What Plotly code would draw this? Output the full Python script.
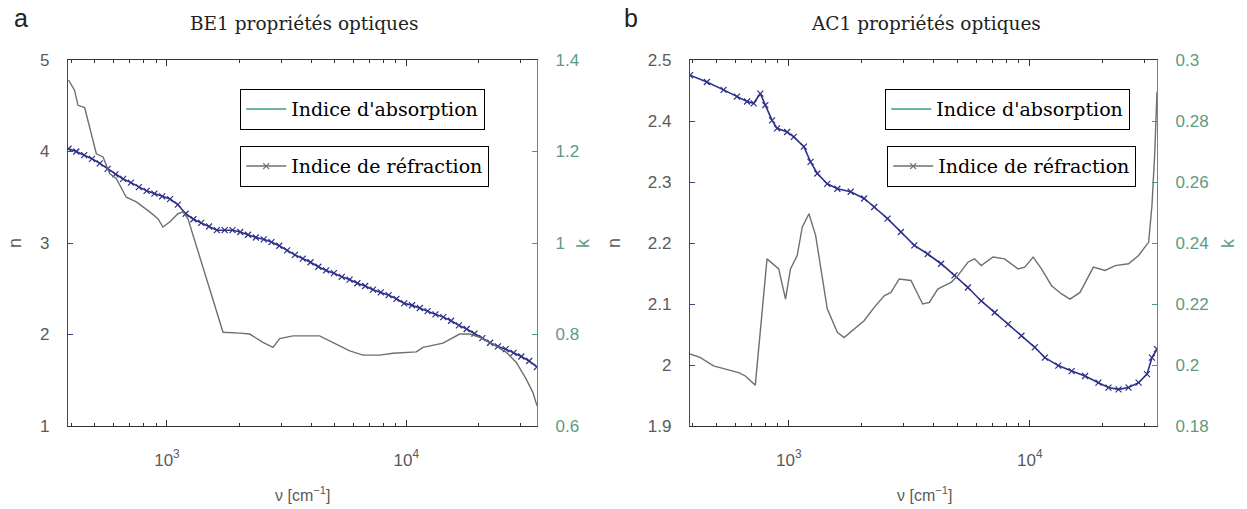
import math
import plotly.graph_objects as go

W, H = 1247, 509

# ---------------- Panel a : BE1 ----------------
a_n_x = [388, 418, 451, 486, 524, 565, 609, 656, 707, 763, 822, 886, 955, 1030, 1110, 1197,
         1290, 1390, 1499, 1616, 1742, 1878, 2024, 2182, 2352, 2536, 2733, 2947, 3176, 3424,
         3691, 3979, 4290, 4624, 4985, 5374, 5793, 6245, 6732, 7257, 7823, 8433, 9091, 9800,
         10565, 11389, 12277, 13235, 14267, 15380, 16580, 17873, 19267, 20770, 22390, 24136,
         26019, 28048, 30236, 32594, 35136]
a_n = [4.03, 4.00, 3.96, 3.92, 3.87, 3.81, 3.75, 3.70, 3.66, 3.61, 3.57, 3.54, 3.51, 3.48, 3.42,
       3.32, 3.26, 3.22, 3.18, 3.14, 3.14, 3.14, 3.12, 3.09, 3.06, 3.04, 3.01, 2.97, 2.92, 2.87,
       2.83, 2.79, 2.74, 2.70, 2.67, 2.63, 2.60, 2.56, 2.53, 2.49, 2.46, 2.43, 2.39, 2.34, 2.32,
       2.29, 2.255, 2.22, 2.19, 2.15, 2.10, 2.06, 2.01, 1.96, 1.91, 1.87, 1.84, 1.80, 1.76, 1.71,
       1.645]
a_k_x = [388, 411, 425, 453, 507, 541, 576, 614, 676, 745, 847, 917, 962, 1026, 1112, 1167, 1224,
         1715, 2013, 2215, 2518, 2773, 2958, 3361, 4343, 4939, 5800, 6590, 7740, 8795, 11010,
         11740, 14230, 16710, 18400, 20240, 23010, 26170, 28820, 31720, 33810, 35150]
a_k = [1.356, 1.334, 1.301, 1.296, 1.195, 1.188, 1.152, 1.141, 1.100, 1.090, 1.068, 1.053, 1.035,
       1.046, 1.064, 1.068, 1.053, 0.805, 0.803, 0.801, 0.783, 0.772, 0.791, 0.797, 0.797, 0.783,
       0.764, 0.755, 0.755, 0.759, 0.762, 0.772, 0.781, 0.801, 0.801, 0.794, 0.779, 0.761, 0.739,
       0.702, 0.673, 0.644]

# ---------------- Panel b : AC1 ----------------
b_n_x = [389, 457, 536, 609, 671, 715, 762, 799, 852, 894, 984, 1049, 1155, 1231, 1313, 1444,
         1590, 1806, 2053, 2261, 2568, 2919, 3318, 3771, 4285, 4870, 5535, 6290, 7150, 8122,
         9233, 10490, 11550, 13130, 14920, 16960, 19270, 21210, 23350, 25690, 28280, 30640,
         32130, 33720]
b_n = [2.475, 2.464, 2.451, 2.440, 2.432, 2.429, 2.445, 2.426, 2.401, 2.388, 2.382, 2.374, 2.358,
       2.333, 2.314, 2.297, 2.289, 2.284, 2.273, 2.259, 2.240, 2.218, 2.196, 2.182, 2.166, 2.147,
       2.127, 2.105, 2.086, 2.067, 2.048, 2.029, 2.012, 1.999, 1.990, 1.982, 1.971, 1.963, 1.960,
       1.963, 1.971, 1.985, 2.012, 2.026]
b_k_x = [389, 428, 487, 554, 619, 660, 726, 812, 908, 969, 1016, 1083, 1137, 1212, 1292, 1444,
         1590, 1695, 1866, 2053, 2261, 2488, 2653, 2873, 3213, 3593, 3831, 4150, 4424, 4717, 5029,
         5535, 5901, 6290, 7036, 7866, 8942, 9533, 10325, 11185, 12310, 13550, 14680, 16160,
         18360, 20540, 22610, 25690, 28280, 31130, 32130, 32970, 33720]
b_k = [0.2036, 0.2025, 0.1997, 0.1986, 0.1975, 0.1964, 0.1934, 0.2348, 0.2315, 0.2216, 0.2315,
       0.2359, 0.2452, 0.2496, 0.2425, 0.2184, 0.2107, 0.2090, 0.2118, 0.2145, 0.2189, 0.2227,
       0.2238, 0.2282, 0.2277, 0.2200, 0.2205, 0.2249, 0.2260, 0.2271, 0.2293, 0.2337, 0.2348,
       0.2326, 0.2354, 0.2348, 0.2315, 0.2321, 0.2354, 0.2315, 0.2260, 0.2233, 0.2216, 0.2238,
       0.2321, 0.2310, 0.2326, 0.2332, 0.2359, 0.2403, 0.2523, 0.2688, 0.2896]

titles = ["BE1 propriétés optiques", "AC1 propriétés optiques"]
panel_labels = ["a", "b"]
legend_labels = ["Indice d'absorption", "Indice de réfraction"]
a_left_ticks = [1, 2, 3, 4, 5]
a_right_ticks = [0.6, 0.8, 1.0, 1.2, 1.4]
a_right_text = ["0.6", "0.8", "1", "1.2", "1.4"]
b_left_ticks = [1.9, 2.0, 2.1, 2.2, 2.3, 2.4, 2.5]
b_left_text = ["1.9", "2", "2.1", "2.2", "2.3", "2.4", "2.5"]
b_right_ticks = [0.18, 0.2, 0.22, 0.24, 0.26, 0.28, 0.3]
b_right_text = ["0.18", "0.2", "0.22", "0.24", "0.26", "0.28", "0.3"]
x_major = [1000, 10000]
x_major_text = ["10<sup>3</sup>", "10<sup>4</sup>"]
x_minor = [400, 500, 600, 700, 800, 900, 2000, 3000, 4000, 5000, 6000, 7000, 8000, 9000,
           20000, 30000]

NAVY = "#2c3088"
GRAY = "#6d706e"
TEAL = "#3f9c7e"
LEFTAX = "#3f4472"
TICKGRAY = "#5a5a5a"
RIGHTTXT = "#5c9a82"

fig = go.Figure()

def px_x(p):
    return p / W

def px_y(p):
    return 1 - p / H

panels = [
    dict(xa="x", ya="y", ya2="y2", nx=a_n_x, ny=a_n, kx=a_k_x, ky=a_k),
    dict(xa="x2", ya="y3", ya2="y4", nx=b_n_x, ny=b_n, kx=b_k_x, ky=b_k),
]
for p in panels:
    fig.add_trace(go.Scatter(x=p["kx"], y=p["ky"], mode="lines", xaxis=p["xa"], yaxis=p["ya2"],
                             line=dict(color=GRAY, width=1.4), showlegend=False, hoverinfo="skip"))
    fig.add_trace(go.Scatter(x=p["nx"], y=p["ny"], mode="lines+markers", xaxis=p["xa"], yaxis=p["ya"],
                             line=dict(color=NAVY, width=1.6),
                             marker=dict(symbol="x-thin", size=6, line=dict(color=NAVY, width=1.2)),
                             showlegend=False, hoverinfo="skip"))

# legend dummy traces (4 separate legend boxes)
legend_names = ["legend", "legend2", "legend3", "legend4"]
for i, (xa, ya) in enumerate([("x", "y"), ("x2", "y3")]):
    fig.add_trace(go.Scatter(x=[None], y=[None], xaxis=xa, yaxis=ya, mode="lines",
                             name=legend_labels[0], line=dict(color=TEAL, width=1.4),
                             legend=legend_names[2 * i], showlegend=True))
    fig.add_trace(go.Scatter(x=[None], y=[None], xaxis=xa, yaxis=ya, mode="lines+markers",
                             name=legend_labels[1], line=dict(color=GRAY, width=1.4),
                             marker=dict(symbol="x-thin", size=6, line=dict(color=GRAY, width=1.2)),
                             legend=legend_names[2 * i + 1], showlegend=True))

SANS = "Liberation Sans, Arial, sans-serif"
tickfont = dict(family=SANS, size=17, color=TICKGRAY)
rtickfont = dict(family=SANS, size=17, color=RIGHTTXT)
ydom = [px_y(426), px_y(60)]

def xaxis_cfg(dom, rng, anchor):
    return dict(type="log", domain=dom, range=rng, anchor=anchor,
                tickvals=x_major, ticktext=x_major_text, ticks="inside", ticklen=6,
                tickcolor="#333", tickwidth=1, showline=True, linecolor="#333", linewidth=1.2,
                mirror="ticks", showgrid=False, zeroline=False, tickfont=tickfont,
                ticklabelstandoff=18,
                minor=dict(tickvals=x_minor, ticks="inside", ticklen=3, tickcolor="#333",
                           showgrid=False))

def yleft_cfg(rng, tv, tt, anchor):
    return dict(domain=ydom, range=rng, anchor=anchor, side="left", tickvals=tv, ticktext=tt,
                ticks="inside", ticklen=5, tickcolor=LEFTAX, showline=True, linecolor=LEFTAX,
                linewidth=1.4, showgrid=False, zeroline=False, tickfont=tickfont,
                ticklabelstandoff=14)

def yright_cfg(rng, tv, tt, anchor, over):
    return dict(range=rng, anchor=anchor, overlaying=over, side="right", tickvals=tv,
                ticktext=tt, ticks="inside", ticklen=5, tickcolor=TEAL, showline=True,
                linecolor=TEAL, linewidth=1.4, showgrid=False, zeroline=False,
                tickfont=rtickfont, ticklabelstandoff=14)

fig.update_layout(
    width=W, height=H, margin=dict(l=0, r=0, t=0, b=0),
    paper_bgcolor="white", plot_bgcolor="white", template="none",
    xaxis=xaxis_cfg([px_x(68), px_x(537)], [math.log10(386), math.log10(35150)], "y"),
    yaxis=yleft_cfg([1, 5], a_left_ticks, [str(v) for v in a_left_ticks], "x"),
    yaxis2=yright_cfg([0.6, 1.4], a_right_ticks, a_right_text, "x", "y"),
    xaxis2=xaxis_cfg([px_x(690), px_x(1157)], [math.log10(389), math.log10(33720)], "y3"),
    yaxis3=yleft_cfg([1.9, 2.5], b_left_ticks, b_left_text, "x2"),
    yaxis4=yright_cfg([0.18, 0.3], b_right_ticks, b_right_text, "x2", "y3"),
)

legfont = dict(family="DejaVu Serif, serif", size=19, color="black")
leg_pos = [(240, 89), (240, 146), (885, 89), (887, 146)]
for name, (lx, ly) in zip(legend_names, leg_pos):
    fig.update_layout({name: dict(x=px_x(lx), y=px_y(ly), xanchor="left", yanchor="top",
                                  bordercolor="black", borderwidth=1.2, bgcolor="white",
                                  itemwidth=40, font=legfont)})

ann = []
def add_text(cx, cy, txt, font, angle=0):
    ann.append(dict(x=px_x(cx), y=px_y(cy), xref="paper", yref="paper", text=txt,
                    showarrow=False, xanchor="center", yanchor="middle", textangle=angle,
                    font=font))

for cx, txt in [(304, titles[0]), (926, titles[1])]:
    add_text(cx, 24, txt, dict(family="DejaVu Serif, serif", size=18.5, color="#222"))
for cx, txt in [(21, panel_labels[0]), (631, panel_labels[1])]:
    add_text(cx, 18, txt, dict(family=SANS, size=25, color="#222"))
for cx in [302, 924]:
    add_text(cx, 494, "ν [cm<sup>−1</sup>]", dict(family=SANS, size=16, color=TICKGRAY))
for cx, txt, col in [(15, "n", TICKGRAY), (614, "n", TICKGRAY), (583, "k", RIGHTTXT), (1228, "k", RIGHTTXT)]:
    add_text(cx, 243, txt, dict(family=SANS, size=18, color=col), angle=-90)
fig.update_layout(annotations=ann)

fig.write_html("out.html", config={"displayModeBar": False},
               post_script="document.body.style.margin='0';")
